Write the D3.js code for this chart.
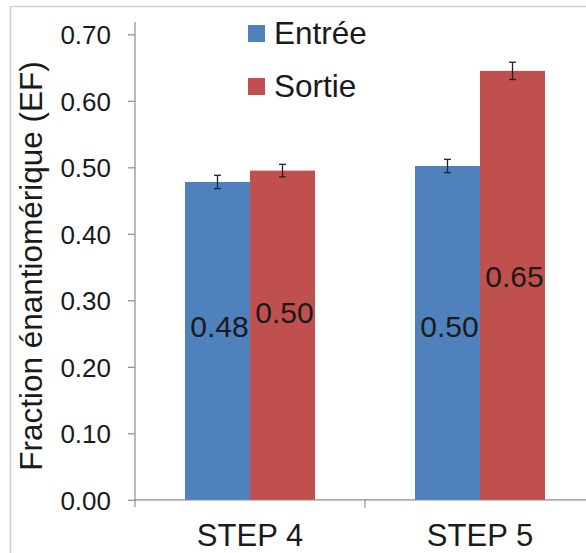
<!DOCTYPE html>
<html><head><meta charset="utf-8">
<script src="https://cdn.jsdelivr.net/npm/d3@7"></script>
<style>
html,body{margin:0;padding:0;background:#fff;}
svg{display:block;font-family:"Liberation Sans",Arial,sans-serif;}
</style></head>
<body><svg id="c" width="586" height="553"></svg>
<script>
const categories = ["STEP 4", "STEP 5"];
const seriesNames = ["Entrée", "Sortie"];
const entreeValues = [0.478, 0.502];
const sortieValues = [0.495, 0.645];
const entreeErrors = [0.010, 0.010];
const sortieErrors = [0.0095, 0.013];
const valueLabels = [["0.48", "0.50"], ["0.50", "0.65"]];
const yTicks = [0, 0.1, 0.2, 0.3, 0.4, 0.5, 0.6, 0.7];

const colors = ["#4F81BD", "#C0504D"];
const textColor = "#1a1a1a";
const axisColor = "#8c8c8c";

const svg = d3.select("#c");

// outer frame
svg.append("rect").attr("x", 10.5).attr("y", 6.5).attr("width", 600).attr("height", 600)
  .attr("fill", "none").attr("stroke", "#cfcfcf").attr("stroke-width", 1.5);

const y = d3.scaleLinear().domain([0, 0.7]).range([499.8, 34.3]);
const x = d3.scaleBand().domain(categories).range([135, 595]).padding(0);
const xs = d3.scaleBand().domain(seriesNames).range([50, 180]).padding(0);

const data = categories.map((c, i) => ({
  cat: c,
  vals: [
    {s: seriesNames[0], v: entreeValues[i], e: entreeErrors[i], lab: valueLabels[i][0], k: 0},
    {s: seriesNames[1], v: sortieValues[i], e: sortieErrors[i], lab: valueLabels[i][1], k: 1}
  ]
}));

// y axis
const yAxis = d3.axisLeft(y).tickValues(yTicks).tickFormat(d3.format(".2f")).tickSize(7).tickPadding(17);
const gy = svg.append("g").attr("transform", "translate(135,0)").call(yAxis);
gy.select(".domain").remove();
gy.selectAll(".tick line").attr("stroke", axisColor).attr("stroke-width", 1.2);
gy.selectAll(".tick text").attr("fill", textColor).style("font-size", "26px")
  .style("font-family", "'Liberation Sans',Arial,sans-serif").attr("dy", "0.36em");
svg.append("line").attr("x1", 135).attr("x2", 135).attr("y1", 22).attr("y2", 507)
  .attr("stroke", axisColor).attr("stroke-width", 1.2);

// x axis
svg.append("line").attr("x1", 135).attr("x2", 586).attr("y1", y(0)).attr("y2", y(0))
  .attr("stroke", axisColor).attr("stroke-width", 1.2);
svg.selectAll(".xdiv").data(categories.slice(1)).enter().append("line")
  .attr("x1", d => x(d)).attr("x2", d => x(d)).attr("y1", y(0)).attr("y2", y(0) + 8)
  .attr("stroke", axisColor).attr("stroke-width", 1.2);
svg.selectAll(".xlab").data(categories).enter().append("text")
  .attr("x", d => x(d) + x.bandwidth() / 2).attr("y", 546)
  .attr("text-anchor", "middle").attr("fill", textColor).style("font-size", "31px").text(d => d);

// bars
const g = svg.selectAll(".cat").data(data).enter().append("g")
  .attr("transform", d => `translate(${x(d.cat)},0)`);
g.selectAll("rect").data(d => d.vals).enter().append("rect")
  .attr("x", d => xs(d.s)).attr("width", xs.bandwidth())
  .attr("y", d => y(d.v)).attr("height", d => y(0) - y(d.v))
  .attr("fill", d => colors[d.k]);

// error bars
const eb = g.selectAll(".eb").data(d => d.vals).enter().append("g")
  .attr("stroke", "#222").attr("stroke-width", 1.3);
eb.append("line").attr("x1", d => xs(d.s) + xs.bandwidth() / 2).attr("x2", d => xs(d.s) + xs.bandwidth() / 2)
  .attr("y1", d => y(d.v + d.e)).attr("y2", d => y(d.v - d.e));
eb.append("line").attr("x1", d => xs(d.s) + xs.bandwidth() / 2 - 3.5).attr("x2", d => xs(d.s) + xs.bandwidth() / 2 + 3.5)
  .attr("y1", d => y(d.v + d.e)).attr("y2", d => y(d.v + d.e));
eb.append("line").attr("x1", d => xs(d.s) + xs.bandwidth() / 2 - 3.5).attr("x2", d => xs(d.s) + xs.bandwidth() / 2 + 3.5)
  .attr("y1", d => y(d.v - d.e)).attr("y2", d => y(d.v - d.e));

// value labels (manually offset like the original)
const labelShift = [[-15, -23], [-7, -9]];
g.each(function(d, i) {
  d3.select(this).selectAll(".vl").data(d.vals).enter().append("text")
    .attr("x", v => xs(v.s) + xs.bandwidth() / 2 + 2)
    .attr("y", v => (y(v.v) + y(0)) / 2 + labelShift[i][v.k])
    .attr("dy", "0.36em").attr("text-anchor", "middle")
    .attr("fill", textColor).style("font-size", "30px").text(v => v.lab);
});

// legend
const leg = svg.selectAll(".leg").data(seriesNames).enter().append("g")
  .attr("transform", (d, i) => `translate(248,${25 + i * 53})`);
leg.append("rect").attr("width", 17).attr("height", 17).attr("fill", (d, i) => colors[i]);
leg.append("text").attr("x", 26).attr("y", 18.5).attr("fill", textColor)
  .style("font-size", "31.5px").text(d => d);

// y title
svg.append("text").attr("transform", "translate(42,266) rotate(-90)")
  .attr("text-anchor", "middle").attr("fill", textColor).style("font-size", "31.5px")
  .text("Fraction énantiomérique (EF)");
</script></body></html>
